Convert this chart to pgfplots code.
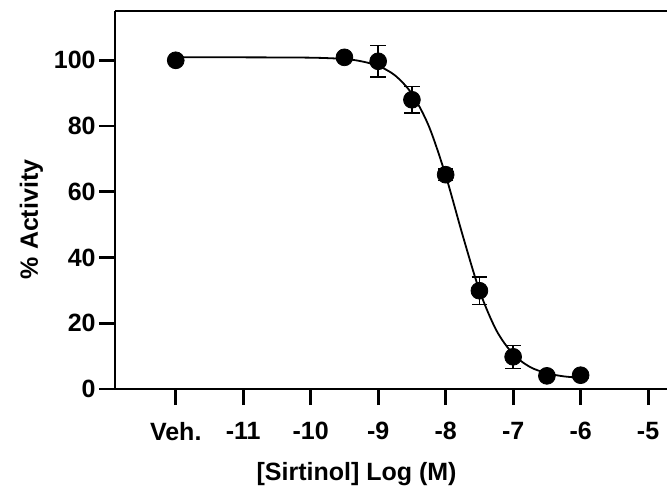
\documentclass[border=0pt]{standalone}
\usepackage{pgfplots}
\pgfplotsset{compat=1.18}
\usepackage{fontspec}
\setmainfont{Liberation Sans}
\newcommand\lab{\fontsize{12.5pt}{15pt}\selectfont\bfseries}

\begin{document}
\begin{tikzpicture}
\useasboundingbox (-57.5pt,-49pt) rectangle (276pt,194.5pt);
\begin{axis}[
    at={(0,0)}, anchor=south west,
    scale only axis,
    width=276pt, height=189pt,
    xmin=-12.9, xmax=-4.72,
    ymin=0, ymax=115,
    axis x line=box, axis y line=left,
    y axis line style={-},
    axis line style={line width=1.4pt},
    xtick pos=bottom, ytick pos=left,
    tick align=outside,
    major tick length=8pt,
    tick style={line width=1.4pt, black},
    xtick={-12,-11,-10,-9,-8,-7,-6,-5},
    xticklabels={Veh.,-11,-10,-9,-8,-7,-6,-5},
    ytick={0,20,40,60,80,100},
    /pgf/number format/assume math mode=true,
    ticklabel style={font=\lab},
    xticklabel style={yshift=-5pt},
    yticklabel style={inner sep=1.5pt},
    xlabel={[Sirtinol] Log (M)},
    ylabel={\% Activity},
    label style={font=\lab},
    xlabel style={at={([yshift=-45.5pt]axis cs:-9.32,0)}, anchor=base},
    ylabel style={at={([xshift=-38.5pt]axis cs:-12.9,51.6)}, anchor=base},
]
% fitted curve
\addplot[black, line width=0.9pt, smooth, no marks] coordinates {
    (-12,100.9) (-11,100.9) (-10,100.8) (-9.5,100.4) (-9.25,99.7)
    (-9,98.3) (-8.75,95.4) (-8.5,89.8) (-8.25,80.0) (-8,65.0)
    (-7.75,46.9) (-7.5,30.0) (-7.25,17.9) (-7,10.6) (-6.75,6.7)
    (-6.5,4.8) (-6.25,3.85) (-6,3.4)
};
% measured means with error bars
\addplot[only marks, mark=*, mark size=4.2pt, black,
    error bars/.cd, y dir=both, y explicit,
    error bar style={line width=0.75pt},
    error mark options={rotate=90, mark size=3.9pt, line width=0.75pt}]
    coordinates {
    (-12,100) +- (0,0)
    (-9.5,100.9) +- (0,1.2)
    (-9,99.7) +- (0,4.8)
    (-8.5,88.0) +- (0,4.0)
    (-8,65.2) +- (0,1.8)
    (-7.5,29.9) +- (0,4.2)
    (-7,9.8) +- (0,3.5)
    (-6.5,4.0) +- (0,0.8)
    (-6,4.2) +- (0,0.8)
};
\end{axis}
\end{tikzpicture}
\end{document}
